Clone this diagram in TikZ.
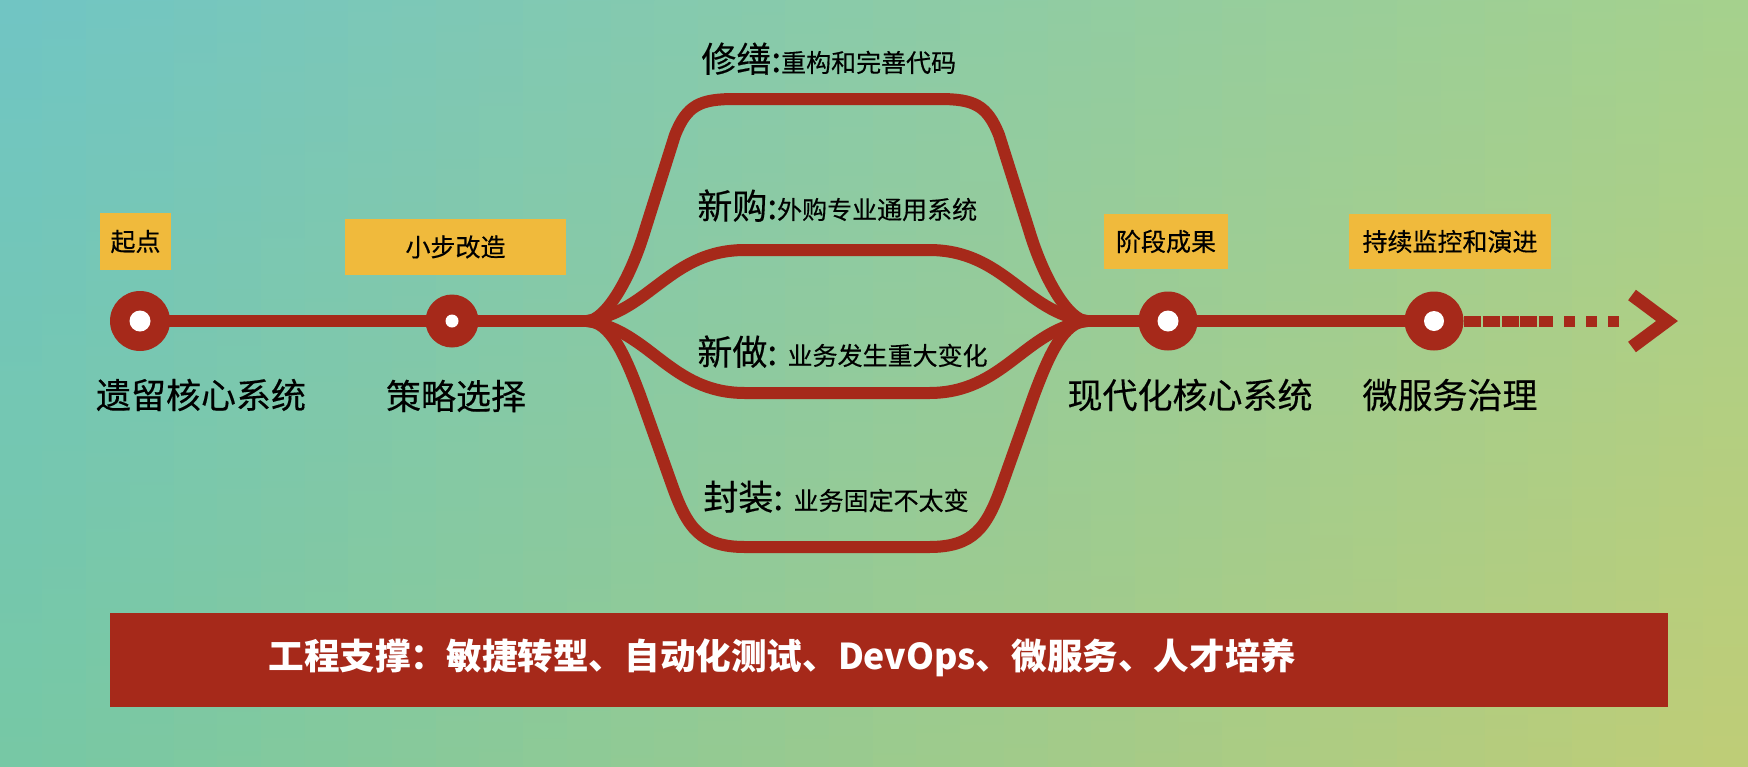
\documentclass[tikz,border=0pt]{standalone}
\usepackage{fontspec}
\setmainfont{Noto Sans CJK SC}[FakeBold=0.35]
\newfontfamily\barfont{Noto Sans CJK SC}
\definecolor{rd}{RGB}{166,41,26}
\definecolor{og}{RGB}{240,186,60}
\definecolor{bgTL}{RGB}{112,197,196}
\definecolor{bgTR}{RGB}{166,209,140}
\definecolor{bgBL}{RGB}{118,200,165}
\definecolor{bgBR}{RGB}{192,205,118}
\pgfdeclarelayer{back}\pgfdeclarelayer{lines}\pgfsetlayers{back,lines,main}
\newcommand\bigf{\fontsize{17.5pt}{21pt}\selectfont}
\newcommand\smallf{\fontsize{12.5pt}{15pt}\selectfont}
\begin{document}
\begin{tikzpicture}[x=0.5pt,y=-0.5pt,
  big/.style={inner sep=0pt, font=\bigf},
  tag/.style={fill=og, inner sep=0pt, font=\smallf},
  ring/.style={circle, fill=rd, inner sep=0pt},
  hole/.style={circle, fill=white, inner sep=0pt},
  redline/.style={draw=rd, line width=6pt},
  pathtext/.style={anchor=base west, inner sep=0pt},
]
\useasboundingbox (0,0) rectangle (1748,766);
% background gradient (bilinear via strips)
\begin{pgfonlayer}{back}
\foreach \i in {0,...,39}{
  \pgfmathtruncatemacro\p{(\i+0.5)*100/40}
  \shade[top color={bgTR!\p!bgTL}, bottom color={bgBR!\p!bgBL}]
    ({\i*43.7-1},0) rectangle ({\i*43.7+44.7},766);
}
\end{pgfonlayer}

% positions
\coordinate (p1) at (140,321);
\coordinate (p2) at (452,321);
\coordinate (br) at (587,321);
\coordinate (mg) at (1087,321);
\coordinate (p3) at (1168,321);
\coordinate (p4) at (1434,321);
\coordinate (dend) at (1553,321);
\coordinate (ch1) at (1632,295);
\coordinate (tip) at (1667,321);
\coordinate (ch2) at (1632,347);

% circles
\node[ring, minimum size=30pt] (c1) at (p1) {};
\node[hole, minimum size=10.5pt] (h1) at (c1) {};
\node[ring, minimum size=26.5pt] (c2) at (p2) {};
\node[hole, minimum size=6.5pt] (h2) at (c2) {};
\node[ring, minimum size=29.5pt] (c3) at (p3) {};
\node[hole, minimum size=10.5pt] (h3) at (c3) {};
\node[ring, minimum size=29.5pt] (c4) at (p4) {};
\node[hole, minimum size=10pt] (h4) at (c4) {};

% lines
\begin{pgfonlayer}{lines}
\draw[redline] (c1.center) -- (c2.center) -- (br);
\draw[redline] (mg) -- (c3.center) -- (c4.center);
% top branch
\draw[redline] (br) .. controls (605,321) and (630,280) .. (645,230) -- (675,135)
  .. controls (687,105) and (700,99) .. (735,99) -- (939,99)
  .. controls (974,99) and (987,105) .. (999,135) -- (1029,230)
  .. controls (1044,280) and (1069,321) .. (mg);
% second branch
\draw[redline] (br) .. controls (650,312) and (670,250) .. (745,250) -- (929,250)
  .. controls (1004,250) and (1024,312) .. (mg);
% third branch
\draw[redline] (br) .. controls (650,330) and (670,393) .. (745,393) -- (929,393)
  .. controls (1004,393) and (1024,330) .. (mg);
% bottom branch
\draw[redline] (br) .. controls (610,321) and (625,355) .. (640,395) -- (672,485)
  .. controls (687,527) and (700,547) .. (745,547) -- (929,547)
  .. controls (974,547) and (987,527) .. (1002,485) -- (1034,395)
  .. controls (1049,355) and (1064,321) .. (mg);
% dashed tail
\draw[draw=rd, line width=5.5pt, dash pattern=on 8.5pt off 0.9pt] (c4.east) -- (dend);
\draw[redline, line width=6.5pt, line join=miter] (ch1) -- (tip) -- (ch2);
\end{pgfonlayer}
\node[fill=rd, inner sep=0pt, minimum width=5.5pt, minimum height=5.5pt] (sq1) at (1569,321) {};
\node[fill=rd, inner sep=0pt, minimum width=5.5pt, minimum height=5.5pt] (sq2) at (1591,321) {};
\node[fill=rd, inner sep=0pt, minimum width=5.5pt, minimum height=5.5pt] (sq3) at (1613,321) {};

% tags
\node[tag, minimum width=35.5pt, minimum height=28.5pt] (b1) at (135.5,241.5) {起点};
\node[tag, minimum width=110.5pt, minimum height=28pt] (b2) at (455.5,247) {小步改造};
\node[tag, minimum width=62pt, minimum height=27.5pt] (b3) at (1166,241.5) {阶段成果};
\node[tag, minimum width=101pt, minimum height=27.5pt] (b4) at (1450,241.5) {持续监控和演进};

% labels
\node[big] (l1) at (201,395) {遗留核心系统};
\node[big] (l2) at (456,396) {策略选择};
\node[big] (l3) at (1190,395) {现代化核心系统};
\node[big] (l4) at (1450,395) {微服务治理};

% branch texts
\node[pathtext] (r1) at (701,72) {\bigf 修缮:\smallf 重构和完善代码};
\node[pathtext] (r2) at (697,219) {\bigf 新购:\smallf 外购专业通用系统};
\node[pathtext] (r3) at (697,365) {\bigf 新做: \smallf 业务发生重大变化};
\node[pathtext] (r4) at (703,510) {\bigf 封装: \smallf 业务固定不太变};

% bottom bar
\node[fill=rd, inner sep=0pt, minimum width=779pt, minimum height=47pt] (bar) at (889,660) {};
\node[anchor=west, inner sep=0pt, text=white, font=\barfont\bfseries\fontsize{17.8pt}{21pt}\selectfont] (bartext) at (268,658) {工程支撑：敏捷转型、自动化测试、DevOps、微服务、人才培养};
\end{tikzpicture}
\end{document}
